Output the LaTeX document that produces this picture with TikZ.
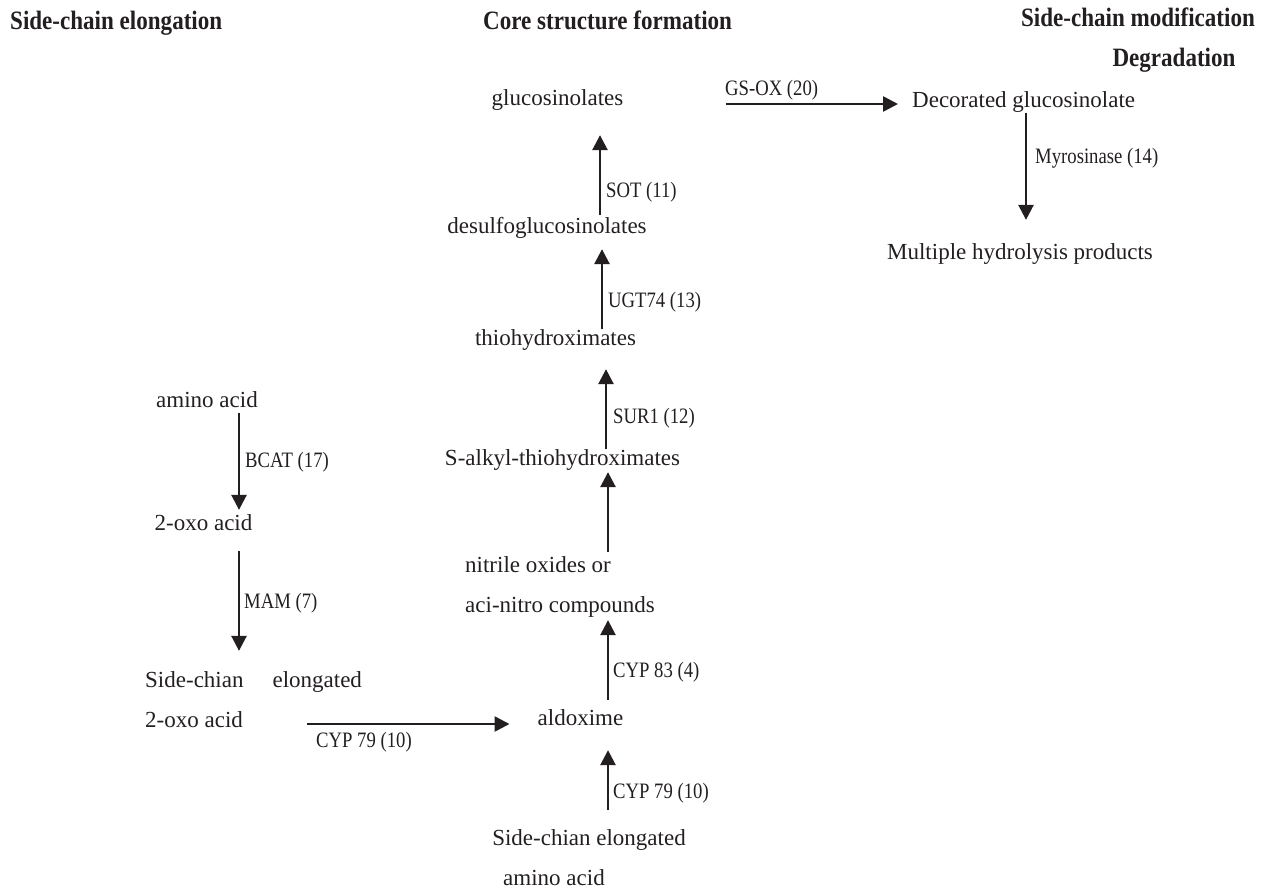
\documentclass[tikz,border=0pt]{standalone}
\usepackage{fontspec}
\setmainfont{Liberation Serif}
\newfontfamily\lblfont[FakeStretch=0.85]{Liberation Serif}
\newfontfamily\hdrfont[FakeStretch=0.87]{Liberation Serif}
\usetikzlibrary{arrows.meta}
\definecolor{ink}{RGB}{35,31,32}
\begin{document}
\begin{tikzpicture}[x=1pt,y=-1pt,
  txt/.style={inner sep=0pt, text height=15.6pt, text depth=5.1pt, font=\fontsize{23}{27}\selectfont, text=ink},
  lbl/.style={inner sep=0pt, anchor=west, text height=15pt, text depth=4.8pt, font=\lblfont\fontsize{22}{26}\selectfont, text=ink},
  hdr/.style={inner sep=0pt, text height=18pt, text depth=5.8pt, font=\hdrfont\bfseries\fontsize{26.5}{30}\selectfont, text=ink},
  arr/.style={draw=ink, line width=2.6pt, -{Triangle[width=15pt,length=15pt]}}]
\useasboundingbox (0,0) rectangle (1268,889);
% headers
\node[hdr, anchor=west] (h1) at (10,23) {Side-chain elongation};
\node[hdr, anchor=west] (h2) at (483,23) {Core structure formation};
\node[hdr] (h3) at (1138,20) {Side-chain modification};
\node[hdr] (h4) at (1174,60) {Degradation};
% central column
\node[txt] (gluc) at (557.5,100) {glucosinolates};
\node[txt] (desulfo) at (547,228) {desulfoglucosinolates};
\node[txt] (thio) at (555.5,340) {thiohydroximates};
\node[txt] (salkyl) at (562.5,460) {S-alkyl-thiohydroximates};
\node[txt, anchor=west] (nitrile) at (465,567) {nitrile oxides or};
\node[txt, anchor=west] (aci) at (465,607) {aci-nitro compounds};
\node[txt] (aldox) at (580.5,720) {aldoxime};
\node[txt] (sceaa) at (589,840) {Side-chian elongated};
\node[txt] (aa2) at (554,880) {amino acid};
% left column
\node[txt] (aa1) at (207,402) {amino acid};
\node[txt] (oxo1) at (203.5,525) {2-oxo acid};
\node[txt, anchor=west] (sce) at (145,682) {Side-chian\hspace{29pt}elongated};
\node[txt, anchor=west] (oxo2) at (145,722) {2-oxo acid};
% right column
\node[txt, anchor=west] (dec) at (912,102) {Decorated glucosinolate};
\node[txt] (multi) at (1020,254) {Multiple hydrolysis products};
% arrow columns
\coordinate (cA) at (600,0);
\coordinate (cB) at (602,0);
\coordinate (cC) at (606,0);
\coordinate (cD) at (608,0);
\coordinate (cL) at (239,0);
\coordinate (cM) at (1026,0);
% arrows
\draw[arr, shorten <=2.6pt, shorten >=24.6pt] (desulfo.north -| cA) -- (gluc.south -| cA);
\draw[arr, shorten <=0pt, shorten >=10.6pt] (thio.north -| cB) -- (desulfo.south -| cB);
\draw[arr, shorten <=0pt, shorten >=18.6pt] (salkyl.north -| cC) -- (thio.south -| cC);
\draw[arr, shorten <=4.6pt, shorten >=1.6pt] (nitrile.north -| cD) -- (salkyl.south -| cD);
\draw[arr, shorten <=9.6pt, shorten >=2.6pt] (aldox.north -| cD) -- (aci.south -| cD);
\draw[arr, shorten <=19.6pt, shorten >=19.6pt] (sceaa.north -| cD) -- (aldox.south -| cD);
\draw[arr, shorten <=64pt, shorten >=28pt] ([yshift=-2pt]oxo2.east) -- ([yshift=-2pt]oxo2.east -| aldox.west);
\draw[arr, shorten <=0pt, shorten >=4.6pt] (aa1.south -| cL) -- (oxo1.north -| cL);
\draw[arr, shorten <=15.6pt, shorten >=20.6pt] (oxo1.south -| cL) -- (sce.north -| cL);
\draw[arr, shorten <=102pt, shorten >=14pt] ([yshift=-4pt]gluc.east) -- ([yshift=-4pt]gluc.east -| dec.west);
\draw[arr, shorten <=0pt, shorten >=23.6pt] (dec.south -| cM) -- (multi.north -| cM);
% labels
\node[lbl] (lSOT) at (606,192) {SOT (11)};
\node[lbl] (lUGT) at (608,302) {UGT74 (13)};
\node[lbl] (lSUR) at (613,418) {SUR1 (12)};
\node[lbl] (lC83) at (613,672) {CYP 83 (4)};
\node[lbl] (lC79v) at (613,793) {CYP 79 (10)};
\node[lbl] (lC79h) at (316,742) {CYP 79 (10)};
\node[lbl] (lBCAT) at (245,462) {BCAT (17)};
\node[lbl] (lMAM) at (244,603) {MAM (7)};
\node[lbl] (lGS) at (725,90) {GS-OX (20)};
\node[lbl] (lMyr) at (1035,158) {Myrosinase (14)};
\end{tikzpicture}
\end{document}
